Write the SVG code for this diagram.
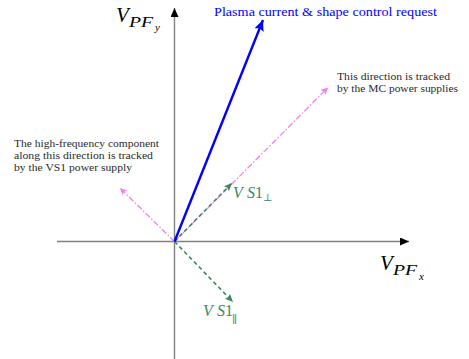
<svg xmlns="http://www.w3.org/2000/svg" width="469" height="359" viewBox="0 0 469 359">
<style>
.axis{stroke:#808080;stroke-width:1.4;fill:none}
.pink{stroke:#ee82ee;stroke-width:1.3;fill:none;stroke-dasharray:6 2 1.5 2}
.green{stroke:#3a8a5c;stroke-width:1.6;fill:none;stroke-dasharray:4 3}
</style>
<defs>
<marker id="ah-black" markerUnits="userSpaceOnUse" markerWidth="12" markerHeight="10" refX="9" refY="4" orient="auto">
<path d="M0,0 L9,4 L0,8 Z" fill="#000"/>
</marker>
<marker id="ah-blue" markerUnits="userSpaceOnUse" markerWidth="14" markerHeight="12" refX="11" refY="5" orient="auto">
<path d="M0,0 L11,5 L0,10 L2,5 Z" fill="#0000ff"/>
</marker>
<marker id="ah-pink" markerUnits="userSpaceOnUse" markerWidth="10" markerHeight="8" refX="7" refY="3.5" orient="auto">
<path d="M0,0 L7,3.5 L0,7 L1.5,3.5 Z" fill="#ee82ee"/>
</marker>
<marker id="ah-green" markerUnits="userSpaceOnUse" markerWidth="10" markerHeight="8" refX="8" refY="3.5" orient="auto">
<path d="M0,0 L8,3.5 L0,7 L1.5,3.5 Z" fill="#3a8a5c"/>
</marker>
</defs>
<rect width="469" height="359" fill="#fff"/>
<g id="connectors">
<line class="axis" x1="57" y1="241.5" x2="409" y2="241.5" marker-end="url(#ah-black)"/>
<line class="axis" x1="174.5" y1="359" x2="174.5" y2="8" marker-end="url(#ah-black)"/>
<line class="pink" x1="174.5" y1="241.5" x2="328" y2="87.5" marker-end="url(#ah-pink)"/>
<line class="pink" x1="174.5" y1="241.5" x2="120" y2="188" marker-end="url(#ah-pink)"/>
<line class="green" x1="174.5" y1="241.5" x2="232" y2="183" marker-end="url(#ah-green)"/>
<line class="green" x1="174.5" y1="241.5" x2="233" y2="302" marker-end="url(#ah-green)"/>
<line x1="174.5" y1="241.5" x2="263" y2="20" stroke="#0000ff" stroke-width="2.4" marker-end="url(#ah-blue)"/>
</g>
<g id="label-vpfy" font-family="Liberation Serif, DejaVu Serif, serif" font-style="italic" fill="#000">
<text x="116" y="22" font-size="21">V</text>
<text x="129" y="27" font-size="15" textLength="24" lengthAdjust="spacingAndGlyphs">PF</text>
<text x="155" y="31" font-size="11">y</text>
</g>
<g id="label-vpfx" font-family="Liberation Serif, DejaVu Serif, serif" font-style="italic" fill="#000">
<text x="380" y="270" font-size="21">V</text>
<text x="393" y="275" font-size="15" textLength="24" lengthAdjust="spacingAndGlyphs">PF</text>
<text x="419" y="280" font-size="11">x</text>
</g>
<g id="label-request">
<text x="214" y="16" font-family="Liberation Serif, DejaVu Serif, serif" font-size="13" fill="#0000ff" textLength="223" lengthAdjust="spacingAndGlyphs">Plasma current &amp; shape control request</text>
</g>
<g id="label-mc" font-family="Liberation Serif, DejaVu Serif, serif" font-size="11" fill="#2a2a2a">
<text x="337" y="80" textLength="113" lengthAdjust="spacingAndGlyphs">This direction is tracked</text>
<text x="337" y="92" textLength="121" lengthAdjust="spacingAndGlyphs">by the MC power supplies</text>
</g>
<g id="label-vs1" font-family="Liberation Serif, DejaVu Serif, serif" font-size="11" fill="#2a2a2a">
<text x="14" y="147" textLength="145" lengthAdjust="spacingAndGlyphs">The high-frequency component</text>
<text x="14" y="159" textLength="139" lengthAdjust="spacingAndGlyphs">along this direction is tracked</text>
<text x="14" y="171" textLength="118" lengthAdjust="spacingAndGlyphs">by the VS1 power supply</text>
</g>
<g id="label-vs1perp" font-family="Liberation Serif, DejaVu Serif, serif" fill="#3a8a5c">
<text x="233" y="198" font-size="16" font-style="italic" textLength="22" lengthAdjust="spacing">VS</text>
<text x="255" y="198" font-size="16">1</text>
<text x="263" y="201" font-size="10" font-family="DejaVu Serif, serif">⊥</text>
</g>
<g id="label-vs1par" font-family="Liberation Serif, DejaVu Serif, serif" fill="#3a8a5c">
<text x="203" y="316" font-size="16" font-style="italic" textLength="22" lengthAdjust="spacing">VS</text>
<text x="225" y="316" font-size="16">1</text>
<text x="232" y="323" font-size="11" font-family="DejaVu Serif, serif">∥</text>
</g>
</svg>
